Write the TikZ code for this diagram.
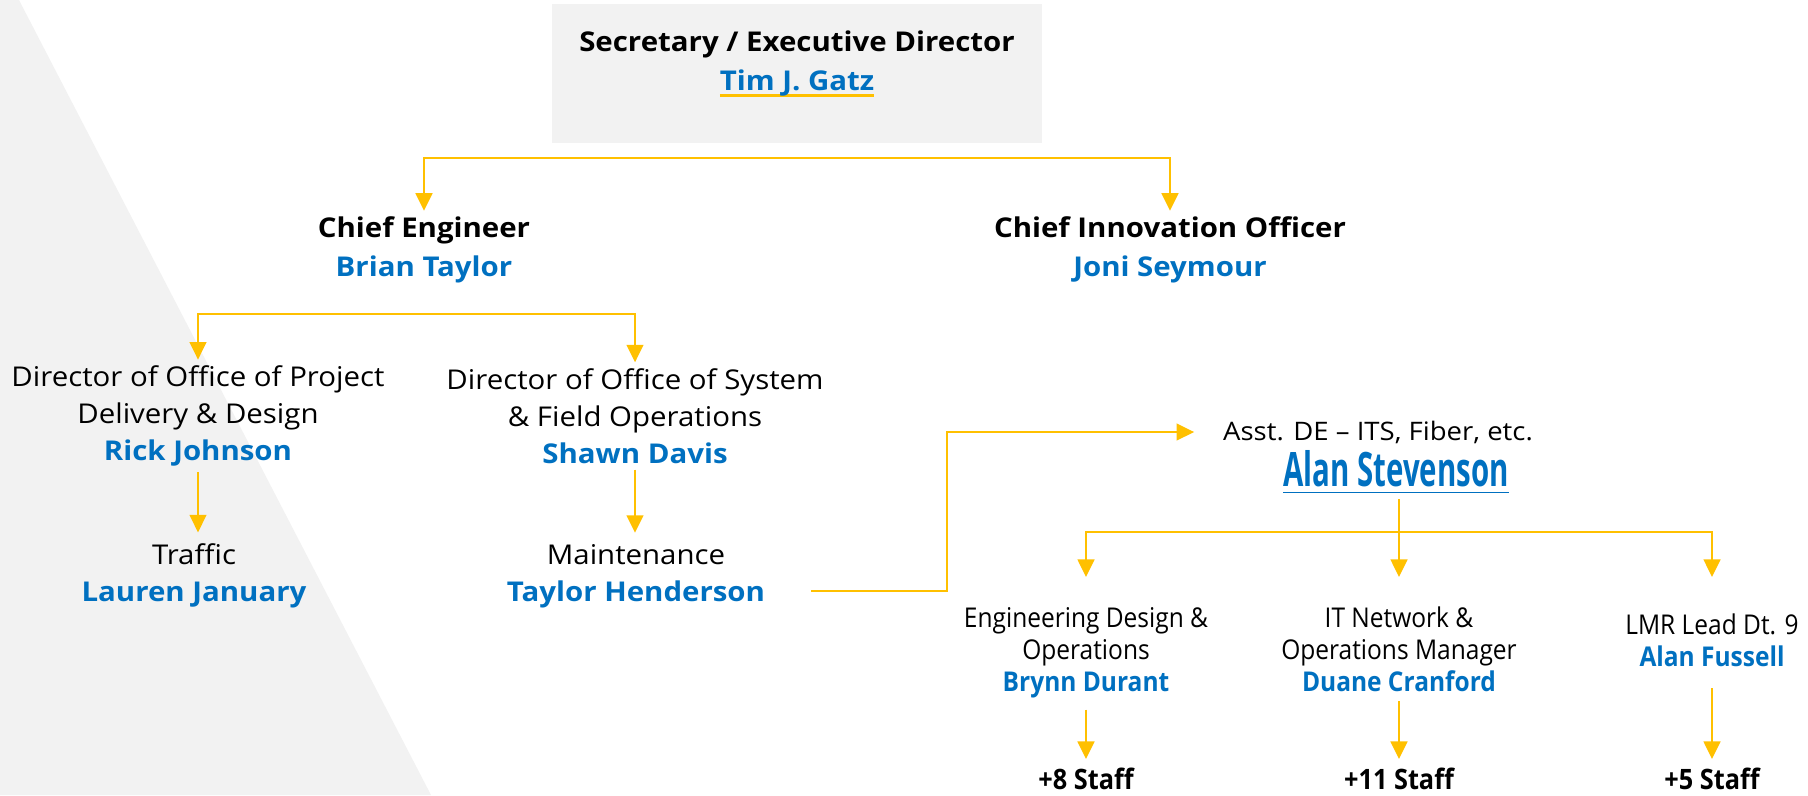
\documentclass[tikz,border=0pt]{standalone}
\usepackage{fontspec}
\setmainfont{Open Sans}[FakeStretch=1.08]
\newfontfamily\narrowfont{Open Sans}[FakeStretch=0.9]
\newfontfamily\tallfont{Open Sans}[FakeStretch=0.62]
\usetikzlibrary{arrows.meta}
\definecolor{orgyellow}{HTML}{FFC000}
\definecolor{orgblue}{HTML}{0070C0}
\definecolor{orggray}{HTML}{F2F2F2}
\tikzstyle{head} = [align=center, font=\bfseries\fontsize{15.5}{22}\selectfont]
\tikzstyle{role} = [align=center, font=\fontsize{15.5}{21}\selectfont]
\tikzstyle{unit} = [align=center, font=\narrowfont\fontsize{15.5}{18.2}\selectfont]
\tikzstyle{staff} = [inner ysep=1pt, font=\narrowfont\bfseries\fontsize{16}{18}\selectfont]
\tikzstyle{arrow} = [line width=1.4pt, draw=orgyellow, -{Triangle[width=9.5pt,length=10pt]}]
\newcommand{\who}[1]{{\color{orgblue}\bfseries #1}}
\newsavebox{\ulinebox}
\newcommand{\ulined}[3]{% colour, thickness, text
  \sbox{\ulinebox}{#3}%
  \rlap{\color{#1}\rule[-3.5pt]{\wd\ulinebox}{#2}}\usebox{\ulinebox}}

\begin{document}
\begin{tikzpicture}[x=0.02cm, y=-0.02cm]
\useasboundingbox (0,0) rectangle (1808,795);
% background wedge
\fill[orggray] (0,0) -- (19,0) -- (431,795) -- (0,795) -- cycle;

\node (secbox) [fill=orggray, minimum width=9.8cm, minimum height=2.78cm] at (797,73.5) {};
\node (sec) [head] at (797,64) {Secretary / Executive Director\\ \ulined{orgyellow}{1.5pt}{\who{Tim J. Gatz}}};

\node (ceng) [head] at (424,250) {Chief Engineer\\ \who{Brian Taylor}};
\node (cino) [head] at (1170,250) {Chief Innovation Officer\\ \who{Joni Seymour}};

\node (pdd) [role] at (198,416) {Director of Office of Project\\ Delivery \& Design\\ \who{Rick Johnson}};
\node (sfo) [role] at (635,416) {Director of Office of System\\ \& Field Operations\\ \who{Shawn Davis}};
\node (traffic) [role] at (194,576) {Traffic\\ \who{Lauren January}};
\node (maint) [role] at (636,576) {Maintenance\\ \who{Taylor Henderson}};

\node (asst) [font=\fontsize{14.5}{18}\selectfont] at (1378,432) {Asst. DE – ITS, Fiber, etc.};
\node (stevenson) [font=\tallfont\bfseries\fontsize{27}{30}\selectfont, text=orgblue] at (1396,472) {\ulined{orgblue}{0.9pt}{Alan Stevenson}};

\node (engdes) [unit] at (1086,653) {Engineering Design \&\\ Operations\\ \who{Brynn Durant}};
\node (itnet) [unit] at (1399,649) {IT Network \&\\ Operations Manager\\ \who{Duane Cranford}};
\node (lmr) [unit] at (1712,640) {LMR Lead Dt. 9\\ \who{Alan Fussell}};
\node (staffa) [staff] at (1086,779) {+8 Staff};
\node (staffb) [staff] at (1399,779) {+11 Staff};
\node (staffc) [staff] at (1712,779) {+5 Staff};

% connectors
\coordinate (split1) at (797,158);
\draw [arrow] (split1) -| (ceng.north);
\draw [arrow] (split1) -| (cino.north);
\coordinate (split2) at (416,314);
\draw [arrow] (split2) -| (pdd.north);
\draw [arrow] (split2) -| (sfo.north);
\draw [arrow, shorten >=3pt] (pdd.south) -- (pdd.south |- traffic.north);
\draw [arrow, shorten >=3pt] (sfo.south) -- (sfo.south |- maint.north);
\draw [arrow, shorten >=13pt] ([shift={(40,15)}]maint.east) -- ++(136,0) |- (asst.west);
\coordinate (split3) at (1399,532);
\draw [arrow, shorten >=14pt] (stevenson.south -| itnet.north) -- (itnet.north |- engdes.north);
\draw [arrow, shorten >=14pt] (split3) -| (engdes.north);
\draw [arrow, shorten >=14pt] (split3) -| (lmr.north |- engdes.north);
\draw [arrow, shorten <=3pt, shorten >=4pt] (engdes.south) -- (staffa.north);
\draw [arrow, shorten <=2pt, shorten >=4pt] (itnet.south) -- (staffb.north);
\draw [arrow, shorten <=9pt, shorten >=4pt] (lmr.south) -- (staffc.north);
\end{tikzpicture}
\end{document}
